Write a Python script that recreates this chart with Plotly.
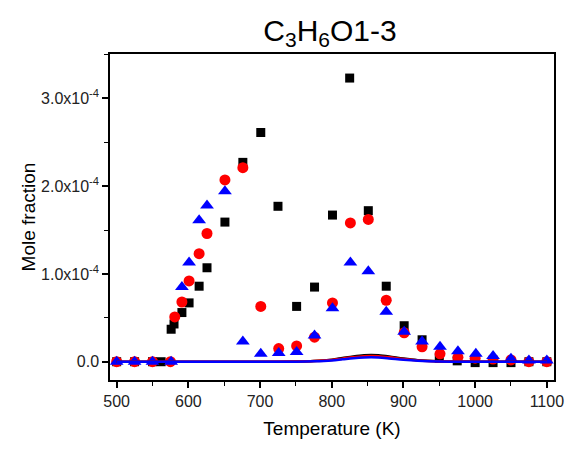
import plotly.graph_objects as go

# Experimental data (Temperature in K, mole fraction in units of 1e-4)
T_black = [500, 525, 550, 562, 576, 580, 591, 601, 615, 626, 651, 676, 701, 725, 751, 776, 801, 825, 851, 876, 901, 926, 950, 975, 1000, 1025, 1050, 1075, 1100]
Y_black = [0.0, 0.0, 0.0, 0.0, 0.37, 0.43, 0.56, 0.67, 0.86, 1.07, 1.59, 2.27, 2.61, 1.77, 0.63, 0.85, 1.67, 3.23, 1.72, 0.86, 0.41, 0.25, 0.04, 0.01, -0.01, -0.01, -0.01, 0.0, 0.0]

T_red = [500, 525, 550, 575, 581, 591, 601, 615, 626, 651, 676, 701, 726, 751, 776, 801, 826, 851, 876, 901, 926, 951, 976, 1000, 1025, 1050, 1075, 1100]
Y_red = [0.0, 0.0, 0.0, 0.0, 0.51, 0.68, 0.92, 1.23, 1.46, 2.07, 2.21, 0.63, 0.15, 0.18, 0.28, 0.67, 1.58, 1.62, 0.70, 0.33, 0.17, 0.09, 0.05, 0.04, 0.03, 0.02, 0.0, 0.0]

T_blue = [500, 525, 550, 576, 591, 601, 615, 626, 651, 676, 701, 726, 751, 776, 801, 826, 851, 876, 901, 926, 951, 976, 1001, 1025, 1050, 1075, 1100]
Y_blue = [0.0, 0.0, 0.0, 0.0, 0.85, 1.13, 1.61, 1.78, 1.94, 0.23, 0.09, 0.10, 0.11, 0.30, 0.61, 1.13, 1.03, 0.57, 0.34, 0.23, 0.17, 0.12, 0.09, 0.065, 0.035, 0.015, 0.015]

# Model curves (units of 1e-4)
T_model = [500, 600, 700, 750, 775, 800, 815, 830, 845, 855, 865, 880, 900, 920, 950, 1000, 1100]
Y_model_black = [0.0, 0.0, 0.0, 0.002, 0.008, 0.024, 0.042, 0.060, 0.074, 0.078, 0.074, 0.060, 0.036, 0.018, 0.006, 0.001, 0.0]
Y_model_red = [0.0, 0.0, 0.0, 0.002, 0.007, 0.020, 0.035, 0.051, 0.063, 0.066, 0.063, 0.051, 0.030, 0.015, 0.004, 0.001, 0.0]
Y_model_blue = [0.0, 0.0, 0.0, 0.001, 0.005, 0.015, 0.027, 0.039, 0.048, 0.051, 0.048, 0.038, 0.022, 0.011, 0.003, 0.0, 0.0]

ytick_vals = [0.0, 1.0, 2.0, 3.0]
ytick_text = ["0.0", "1.0x10<sup>-4</sup>", "2.0x10<sup>-4</sup>", "3.0x10<sup>-4</sup>"]
xtick_vals = [500, 600, 700, 800, 900, 1000, 1100]

scale = 1e-4
FONT = "Liberation Sans, Arial"
fig = go.Figure()
fig.add_trace(go.Scatter(x=T_black, y=[v * scale for v in Y_black], mode="markers",
                         marker=dict(symbol="square", size=9, color="black"), showlegend=False))
fig.add_trace(go.Scatter(x=T_red, y=[v * scale for v in Y_red], mode="markers",
                         marker=dict(symbol="circle", size=11, color="red"), showlegend=False))
fig.add_trace(go.Scatter(x=T_blue, y=[v * scale for v in Y_blue], mode="markers",
                         marker=dict(symbol="triangle-up", size=12, color="blue"), showlegend=False))
for ys, c in [(Y_model_black, "black"), (Y_model_red, "red"), (Y_model_blue, "blue")]:
    fig.add_trace(go.Scatter(x=T_model, y=[v * scale for v in ys], mode="lines",
                             line=dict(color=c, width=2.5, shape="spline"), showlegend=False))

axis_common = dict(showline=True, linecolor="black", linewidth=1.5, mirror=True,
                   ticks="outside", ticklen=6, tickwidth=1.5, tickcolor="black",
                   showgrid=False, zeroline=False,
                   tickfont=dict(family=FONT, size=16, color="#222"))
fig.update_layout(
    width=575, height=450,
    margin=dict(l=102, r=29, t=46, b=78),
    paper_bgcolor="white", plot_bgcolor="white",
    title=dict(text="C<sub>3</sub>H<sub>6</sub>O1-3", x=0.56, xanchor="center", y=0.951, yanchor="middle",
               font=dict(family=FONT, size=30, color="black")),
    xaxis=dict(range=[490.7, 1110], tickvals=xtick_vals,
               minor=dict(ticks="outside", ticklen=4, tickwidth=1.2, tickcolor="black", dtick=50, tick0=500),
               title=dict(text="Temperature (K)", font=dict(family=FONT, size=19, color="black"), standoff=13),
               **axis_common),
    yaxis=dict(range=[-0.208e-4, 3.504e-4], tickvals=[v * scale for v in ytick_vals], ticktext=ytick_text,
               minor=dict(ticks="outside", ticklen=4, tickwidth=1.2, tickcolor="black", dtick=0.5e-4, tick0=0),
               title=dict(text="Mole fraction", font=dict(family=FONT, size=19, color="black"), standoff=0),
               **axis_common),
)
fig.write_html("out.html")
